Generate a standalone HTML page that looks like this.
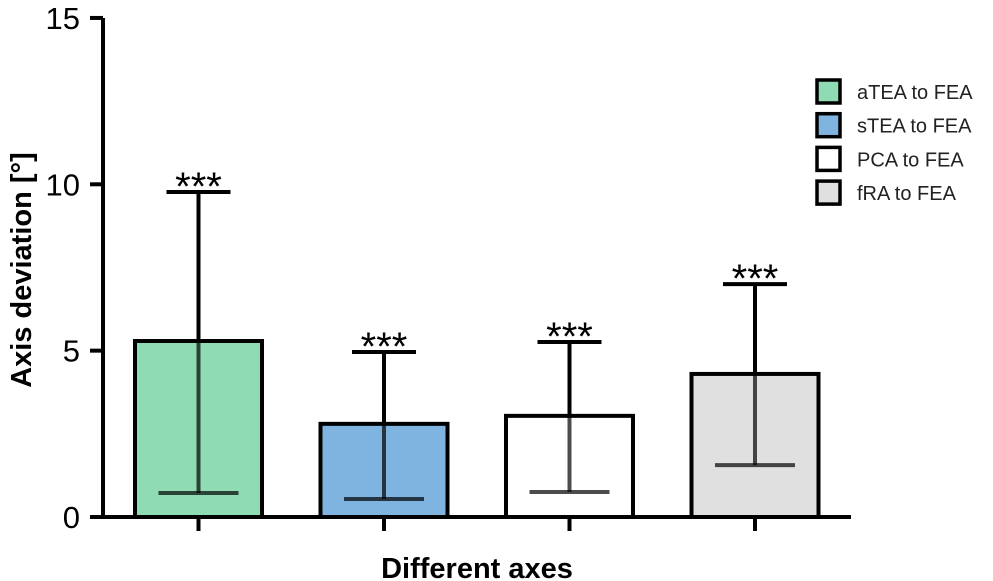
<!DOCTYPE html>
<html><head><meta charset="utf-8"><style>
body{margin:0;background:#fff;}
svg{display:block;font-family:"Liberation Sans",sans-serif;}
</style></head><body>
<svg id="c" width="993" height="581"></svg>
<script>
const categories=["aTEA to FEA","sTEA to FEA","PCA to FEA","fRA to FEA"];
const means=[5.29,2.8,3.04,4.3];
const errUpper=[9.77,4.96,5.26,7.0];
const errLower=[0.72,0.54,0.75,1.56];
const fills=["#8fdcb4","#7fb3e0","#ffffff","#e0e0e0"];
const yTicks=[0,5,10,15];
const sig=["***","***","***","***"];
const NS="http://www.w3.org/2000/svg";
const svg=document.getElementById('c');
function y(v){return 517-v*33.27;}
function xc(i){return 198.5+i*185.5;}
function mk(t,a,p){const e=document.createElementNS(NS,t);for(const k in a)e.setAttribute(k,a[k]);(p||svg).appendChild(e);return e;}
let ya=mk('line',{x1:103,y1:18,x2:103,y2:519,stroke:'#000','stroke-width':4});


let xa=mk('line',{x1:90,y1:517,x2:851,y2:517,stroke:'#000','stroke-width':4});


yTicks.forEach(v=>{
 let t=mk('line',{x1:90,y1:y(v),x2:103,y2:y(v),stroke:'#000','stroke-width':4});
 
 
 let l=mk('text',{x:80,y:y(v)+11,'text-anchor':'end','font-size':31});
 l.textContent=v;
 
 
});
categories.forEach((c,i)=>{
 const cx=xc(i),w=127;
 let b=mk('rect',{x:cx-w/2,y:y(means[i]),width:w,height:y(0)-y(means[i]),fill:fills[i],stroke:'#000','stroke-width':4});
 
 
 let t=mk('line',{x1:cx,y1:517,x2:cx,y2:531,stroke:'#000','stroke-width':4});
 
 
 const g=mk('g',{stroke:'#000','stroke-width':4});
 
 
 mk('line',{x1:cx,y1:y(errUpper[i]),x2:cx,y2:y(means[i]),stroke:'#000'},g);
 mk('line',{x1:cx-32,y1:y(errUpper[i]),x2:cx+32,y2:y(errUpper[i])},g);
 mk('line',{x1:cx,y1:y(means[i]),x2:cx,y2:y(errLower[i]),'stroke-opacity':0.7},g);
 mk('line',{x1:cx-40,y1:y(errLower[i]),x2:cx+40,y2:y(errLower[i]),'stroke-opacity':0.7},g);
 let s=mk('text',{x:cx,y:y(errUpper[i])+8,'text-anchor':'middle','font-size':40});
 s.textContent=sig[i];
 
 
 const lg=mk('g',{});
 
 
 const ly=80+i*33.7;
 mk('rect',{x:817,y:ly,width:23,height:23,fill:fills[i],stroke:'#000','stroke-width':3.5},lg);
 const lt=mk('text',{x:857,y:ly+19,'font-size':20,fill:'#222'},lg);
 lt.textContent=c;
});
let yl=mk('text',{transform:'translate(31,270) rotate(-90)','text-anchor':'middle','font-size':29,'font-weight':'bold'});
yl.textContent='Axis deviation [°]';


let xl=mk('text',{x:477,y:578,'text-anchor':'middle','font-size':29,'font-weight':'bold'});
xl.textContent='Different axes';


</script>
</body></html>
